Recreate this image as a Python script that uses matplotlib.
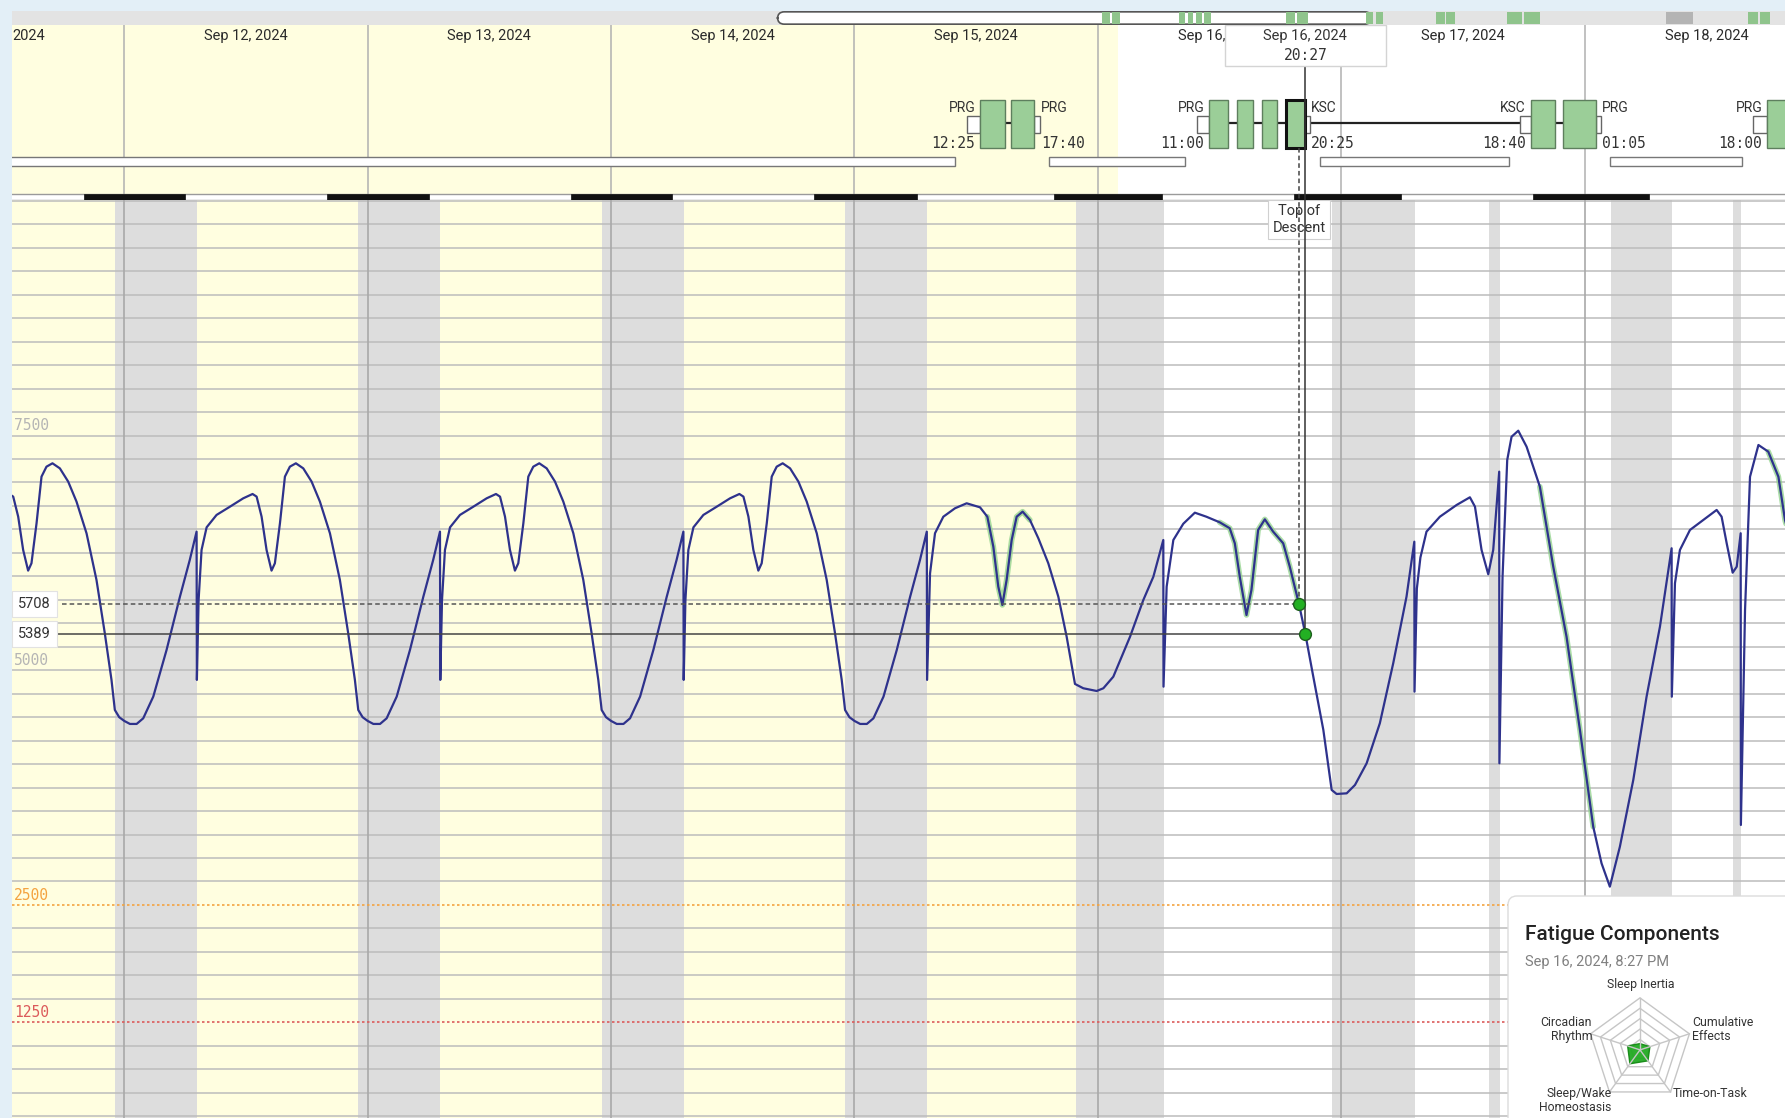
import numpy as np
import matplotlib.pyplot as plt
import matplotlib.transforms as mtransforms
from matplotlib.patches import Rectangle, FancyBboxPatch, Polygon

plt.rcParams['font.family'] = ['Roboto', 'DejaVu Sans']
MONO = ['DejaVu Sans Mono']

# ---------------- data (time = hours after Sep 12, 2024 00:00) ----------------
day_starts = [-24, 0, 24, 48, 72, 96, 120, 144]
day_labels = ['Sep 11, 2024', 'Sep 12, 2024', 'Sep 13, 2024', 'Sep 14, 2024',
              'Sep 15, 2024', 'Sep 16, 2024', 'Sep 17, 2024', 'Sep 18, 2024']

# effectiveness over an ordinary day at home (Sep 11 - Sep 14 look identical)
profile_h = [0.0, 0.56, 1.22, 1.87, 2.86, 4.17, 5.49, 6.46, 7.13, 7.16, 7.33, 7.62,
             8.12, 9.1, 10.42, 11.73, 12.65, 13.05, 13.54, 14.03, 14.52, 14.85,
             15.35, 15.84, 16.33, 16.92, 17.65, 18.47, 19.29, 20.28, 21.26, 22.08,
             22.74, 23.07, 23.5]
profile_v = [4460, 4428, 4428, 4488, 4719, 5216, 5784, 6175, 6476, 4897, 5749, 6281,
             6522, 6654, 6742, 6831, 6877, 6849, 6636, 6281, 6061, 6139,
             6565, 7062, 7168, 7204, 7150, 7009, 6796, 6458, 5962, 5394,
             4897, 4577, 4500]
profile_days = [-24, 0, 24, 48]

# trip days, Sep 15 onwards
trip_h = [72.0, 72.56, 73.22, 73.87, 74.86, 76.17, 77.49, 78.46, 79.13, 79.16,
          79.45, 79.94, 80.76, 81.91, 83.06, 84.38, 85.1, 85.69, 86.18, 86.58,
          87.0, 87.5, 87.99, 88.58, 89.3, 90.13, 91.11, 92.1, 92.92, 93.74,
          94.56, 95.88, 96.54, 97.52, 99.17, 100.48, 101.47, 102.45, 102.47, 102.78,
          103.44, 104.42, 105.56, 106.7, 108.02, 109.0, 109.5, 109.99, 110.65, 111.14,
          111.8, 112.46, 113.28, 114.27, 114.92, 115.82, 116.45, 117.24, 118.23, 119.05,
          119.54, 120.53, 121.35, 122.5, 123.8, 125.12, 126.43, 127.2, 127.22, 127.45,
          127.8, 128.4, 129.72, 131.37, 132.68, 133.18, 133.83, 134.49, 134.98, 135.57,
          135.59, 135.9, 136.36, 136.79, 137.45, 138.27, 139.58, 140.9, 142.21, 143.53,
          144.84, 145.66, 146.48, 147.47, 148.79, 150.1, 151.42, 152.57, 152.59, 152.9,
          153.39, 154.38, 155.69, 157.01, 157.5, 158.0, 158.59, 158.99, 159.38, 159.4,
          159.81, 160.3, 161.13, 162.1, 163.1, 163.75, 164.5]
trip_v = [4460, 4428, 4428, 4488, 4719, 5216, 5784, 6175, 6476, 4897,
          6032, 6459, 6635, 6725, 6778, 6735, 6635, 6316, 5890, 5695,
          5961, 6387, 6635, 6689, 6600, 6405, 6139, 5783, 5357, 4854,
          4808, 4779, 4808, 4931, 5357, 5748, 5996, 6387, 4825, 5890,
          6387, 6560, 6678, 6635, 6575, 6512, 6352, 5996, 5588, 5855,
          6494, 6607, 6476, 6352, 6103, 5708, 5389, 4931, 4364, 3725,
          3682, 3689, 3778, 4009, 4435, 5074, 5783, 6369, 4772, 5870,
          6200, 6476, 6635, 6760, 6842, 6742, 6281, 6022, 6281, 7115,
          4009, 5996, 7239, 7487, 7551, 7381, 6955, 6103, 5357, 4364,
          3334, 2944, 2695, 3121, 3831, 4718, 5464, 6299, 4718, 5926,
          6281, 6494, 6600, 6707, 6635, 6352, 6039, 6103, 6459, 3352,
          5642, 7061, 7399, 7328, 7061, 6600, 6300]

sleep_start = [-24.92, -0.92, 23.08, 47.08, 71.08, 93.85, 119.05, 134.6, 146.56, 158.6]
sleep_end = [-16.82, 7.18, 31.18, 55.18, 79.18, 102.55, 127.25, 135.6, 152.63, 159.4]

night_start = [-4.0, 20.0, 44.0, 68.0, 91.7, 115.3, 138.9]
night_end = [6.0, 30.0, 54.0, 78.2, 102.3, 125.85, 150.3]

rest_start = [-30.0, 91.2, 117.9, 146.5]
rest_end = [81.9, 104.6, 136.5, 159.5]

sector_on = [84.42, 87.4, 107.0, 109.75, 112.15, 114.55, 138.67, 141.9, 162.0, 164.9]
sector_off = [86.8, 89.67, 108.85, 111.3, 113.7, 116.42, 141.07, 145.08, 164.3, 167.0]
duty_report = [83.1, 105.74, 137.6, 160.6]
duty_release = [90.3, 116.9, 145.6, 167.5]
duty_first = [0, 2, 6, 8]
duty_last = [1, 5, 7, 9]
duty_from = ['PRG', 'PRG', 'KSC', 'PRG']
duty_to = ['PRG', 'KSC', 'PRG', '']

later_on = [182.7, 185.7, 203.6, 208.6, 274.5, 278.0]
later_off = [185.4, 188.3, 208.0, 213.3, 277.4, 280.9]
other_on, other_off = [250.3], [258.2]

tod_h, tod_v = 115.82, 5708
cursor_h, cursor_v = 116.45, 5389

levels = [7500, 5000, 2500, 1250]
level_colors = ['#b5b5b5', '#b5b5b5', '#f4a340', '#dc5b5b']

radar_labels = ['Sleep Inertia', 'Cumulative\nEffects', 'Time-on-Task',
                'Sleep/Wake\nHomeostasis', 'Circadian\nRhythm']
radar_values = [0.12, 0.20, 0.26, 0.33, 0.25]

# ---------------- layout ----------------
W, H = 1785, 1118
X0, CH_T = 12, 200.4
T_MIN, T_MAX = -11.07, 163.75
V_MIN, V_MAX = 231, 10004
OV_MIN, OV_MAX = -236.35, 285.4
HOME_END = 98.0
YELLOW, SLEEP, NAVY = '#fffee0', '#dddddd', '#2e328c'


def hm(h):
    m = int(round((h % 24) * 60))
    return f'{m // 60:02d}:{m % 60:02d}'


def px_axes(l, t, r, b):
    a = fig.add_axes([l / W, 1 - b / H, (r - l) / W, (b - t) / H])
    a.set_xticks([])
    a.set_yticks([])
    for s in a.spines.values():
        s.set_visible(False)
    return a


curve_h = np.concatenate([np.array(profile_h) + d for d in profile_days] + [trip_h])
curve_v = np.concatenate([profile_v for d in profile_days] + [trip_v])

fig = plt.figure(figsize=(W / 100, H / 100), dpi=100)
fig.patch.set_facecolor('#e3eff7')

# ---------------- main chart ----------------
ax = px_axes(X0, CH_T, W, H)
ax.set_xlim(T_MIN, T_MAX)
ax.set_ylim(V_MIN, V_MAX)
ax.set_facecolor('white')
ax.axvspan(T_MIN - 5, HOME_END, color=YELLOW, zorder=0, lw=0)
for s, e in zip(sleep_start, sleep_end):
    ax.axvspan(s, e, color=SLEEP, zorder=1, lw=0)
grid = [v for v in range(250, 10001, 250) if v not in (2500, 1250)]
ax.hlines(grid, T_MIN, T_MAX, color='#bcbcbc', lw=1.1, zorder=2)
ax.vlines(day_starts, V_MIN, V_MAX, color='#a9a9a9', lw=1.2, zorder=2)
ax.hlines([2500], T_MIN, T_MAX, color=level_colors[2], lw=1.2, ls=(0, (1.5, 1.5)), zorder=2)
ax.hlines([1250], T_MIN, T_MAX, color=level_colors[3], lw=1.2, ls=(0, (1.5, 1.5)), zorder=2)
tr = mtransforms.blended_transform_factory(ax.transAxes, ax.transData)
for v, c in zip(levels, level_colors):
    ax.text(0.001, v + 25, str(v), transform=tr, ha='left', va='bottom',
            fontsize=10.5, color=c, family=MONO, zorder=3)

# green glow on flight time
for on, off in [(84.42, 89.67), (107.0, 116.42), (138.67, 145.08), (162.0, 170.0)]:
    m = (curve_h >= on) & (curve_h <= off)
    ax.plot(curve_h[m], curve_v[m], color='#8fd18a', lw=4.0, alpha=0.75,
            solid_capstyle='round', zorder=3)
ax.plot(curve_h, curve_v, color=NAVY, lw=1.6, zorder=4)

# reference lines at top of descent / cursor
ax.hlines(tod_v, -6.14, tod_h, color='#555555', lw=1.1, ls=(0, (3, 2)), zorder=5)
ax.hlines(cursor_v, -6.63, cursor_h, color='#444444', lw=1.1, zorder=5)
ax.vlines(tod_h, tod_v, V_MAX, color='#444444', lw=1.1, ls=(0, (3, 2)), zorder=6)
ax.vlines(cursor_h, cursor_v, V_MAX, color='#333333', lw=1.1, zorder=6)
ax.plot([tod_h, cursor_h], [tod_v, cursor_v], 'o', ms=8.5, mfc='#23b023',
        mec='#1d5e1d', mew=1, zorder=8)
for v in (tod_v, cursor_v):
    ax.text(0.0035, v, str(v), transform=tr, ha='left', va='center', fontsize=10.5,
            color='#333333', zorder=9,
            bbox=dict(boxstyle='square,pad=0.42', fc='white', ec='#e2e2e2', lw=0.8))
ax.text(tod_h, 9965, 'Top of\nDescent', ha='center', va='top', fontsize=10.5,
        color='#333333', linespacing=1.3, zorder=5,
        bbox=dict(boxstyle='square,pad=0.28', fc='white', ec='#d0d0d0', lw=0.8))

# ---------------- header ----------------
hx = px_axes(X0, 25, W, CH_T)
hx.set_xlim(T_MIN, T_MAX)
hx.set_ylim(CH_T, 25)
hx.set_facecolor('white')
hx.axvspan(T_MIN - 5, HOME_END, color=YELLOW, zorder=0, lw=0)
hx.vlines(day_starts, 25, CH_T, color='#b0b0b0', lw=1.1, zorder=1)
for d, lab in zip(day_starts, day_labels):
    if d + 12 < T_MIN + 6:
        # label of the day that is mostly scrolled off: only the year shows
        hx.text(T_MIN, 36, lab.split()[-1], ha='left', va='center', fontsize=10.5,
                color='#2a2a2a', zorder=2)
    else:
        hx.text(d + 12, 36, lab, ha='center', va='center', fontsize=10.5,
                color='#2a2a2a', clip_on=True, zorder=2)
for s, e in zip(rest_start, rest_end):
    hx.add_patch(Rectangle((s, 157), e - s, 9, fc='white', ec='#777777', lw=1, zorder=2))
hx.add_patch(Rectangle((T_MIN - 5, 193.5), T_MAX - T_MIN + 10, 6.5, fc='white',
                       ec='#9a9a9a', lw=1, zorder=2))
for s, e in zip(night_start, night_end):
    hx.add_patch(Rectangle((s, 193.5), e - s, 6.5, fc='#111111', ec='#111111', lw=0.5, zorder=3))

# duties / flight sectors
hx.hlines(123.5, duty_release[1], duty_report[2], color='#222222', lw=1.6, zorder=2)
for k in range(len(duty_report)):
    i0, i1 = duty_first[k], duty_last[k]
    hx.hlines(123.5, duty_report[k], duty_release[k], color='#222222', lw=1.6, zorder=2)
    hx.add_patch(Rectangle((duty_report[k], 116), sector_on[i0] - duty_report[k], 16.7,
                           fc='white', ec='#666666', lw=1, zorder=3))
    hx.add_patch(Rectangle((sector_off[i1], 116), duty_release[k] - sector_off[i1], 16.7,
                           fc='white', ec='#666666', lw=1, zorder=3))
    hx.text(sector_on[i0] - 0.5, 107.5, duty_from[k], ha='right', va='center',
            fontsize=10, color='#333333', zorder=4)
    hx.text(sector_on[i0] - 0.5, 143.5, hm(sector_on[i0]), ha='right', va='center',
            fontsize=10.5, color='#333333', family=MONO, zorder=4)
    if duty_to[k]:
        hx.text(duty_release[k] + 0.08, 107.5, duty_to[k], ha='left', va='center',
                fontsize=10, color='#333333', zorder=4)
        hx.text(duty_release[k] + 0.08, 143.5, hm(sector_off[i1]), ha='left',
                va='center', fontsize=10.5, color='#333333', family=MONO, zorder=4)
for i, (on, off) in enumerate(zip(sector_on, sector_off)):
    sel = on < cursor_h <= off + 0.1
    hx.add_patch(Rectangle((on, 100), off - on, 48.3, fc='#9bce98',
                           ec='#111111' if sel else '#5e7f5e', lw=2.2 if sel else 1,
                           zorder=5 if sel else 4))

# cursor in header + tooltip
hx.vlines(cursor_h, 66, CH_T, color='#333333', lw=1.1, zorder=6)
hx.vlines(tod_h, 148.3, CH_T, color='#444444', lw=1.1, ls=(0, (3, 2)), zorder=6)
hx.add_patch(Rectangle((cursor_h - 7.95, 25), 15.9, 41, fc='white', ec='#d4d4d4',
                       lw=1, zorder=7))
hx.text(cursor_h, 36, day_labels[int(cursor_h // 24) + 1], ha='center', va='center',
        fontsize=10.5, color='#333333', zorder=8)
hx.text(cursor_h, 55, hm(cursor_h), ha='center', va='center', fontsize=10.5,
        color='#333333', family=MONO, zorder=8)

# ---------------- overview strip ----------------
ov = px_axes(X0, 11, W, 25)
ov.set_xlim(OV_MIN, OV_MAX)
ov.set_ylim(0, 1)
ov.set_facecolor('#e3e3e3')
ov.add_patch(FancyBboxPatch((T_MIN, 0.06), T_MAX - T_MIN, 0.88,
                            boxstyle='round,pad=0,rounding_size=2.0', mutation_aspect=0.243,
                            fc='white', ec='#555555', lw=1.2, zorder=1))
for on, off in zip(sector_on + later_on, sector_off + later_off):
    ov.add_patch(Rectangle((on, 0.04), off - on, 0.92, fc='#8fc48c', ec='none', zorder=2))
for on, off in zip(other_on, other_off):
    ov.add_patch(Rectangle((on, 0.04), off - on, 0.92, fc='#b4b4b4', ec='none', zorder=2))

# ---------------- fatigue components panel ----------------
top = px_axes(0, 0, W, H)
top.set_xlim(0, W)
top.set_ylim(H, 0)
top.patch.set_visible(False)
top.set_zorder(20)
top.add_patch(FancyBboxPatch((1511, 899), 300, 240, boxstyle='round,pad=0,rounding_size=9',
                             fc='#000000', ec='none', alpha=0.05))
top.add_patch(FancyBboxPatch((1508, 896), 300, 240, boxstyle='round,pad=0,rounding_size=9',
                             fc='white', ec='#dcdcdc', lw=1))
top.text(1525, 934, 'Fatigue Components', ha='left', va='center', fontsize=15,
         fontweight='medium', color='#222222')
hr = int(cursor_h % 24)
sub = f'Sep {10 + int(cursor_h // 24) + 2}, 2024, {hr % 12 or 12}:{hm(cursor_h)[3:]} ' \
      f'{"PM" if hr >= 12 else "AM"}'
top.text(1525, 962, sub, ha='left', va='center', fontsize=10.5, color='#808080')

rx = px_axes(1520, 975, 1760, H)
rx.set_zorder(30)
rx.patch.set_visible(False)
rx.set_xlim(-2.31, 2.31)
rx.set_ylim(-1.31, 1.44)
ang = np.deg2rad(90 - 72 * np.arange(5))
for r in (0.2, 0.4, 0.6, 0.8, 1.0):
    rx.add_patch(Polygon(np.c_[r * np.cos(ang), r * np.sin(ang)], closed=True,
                         fill=False, ec='#c6c6c6', lw=1))
for a in ang:
    rx.plot([0, np.cos(a)], [0, np.sin(a)], color='#c6c6c6', lw=1)
rv = np.array(radar_values)
rx.add_patch(Polygon(np.c_[rv * np.cos(ang), rv * np.sin(ang)], closed=True,
                     fc='#22aa22', ec='#158a15', lw=1, alpha=0.95))
lab_xy = [(0.01, 1.26), (1.0, 0.40), (0.62, -0.83), (-0.55, -0.98), (-0.92, 0.40)]
lab_ha = ['center', 'left', 'left', 'right', 'right']
for lab, (lx, ly), ha in zip(radar_labels, lab_xy, lab_ha):
    rx.text(lx, ly, lab, ha=ha, va='center', fontsize=8.8, color='#333333',
            linespacing=1.1)

fig.savefig('out.png', dpi=100, facecolor=fig.get_facecolor())
